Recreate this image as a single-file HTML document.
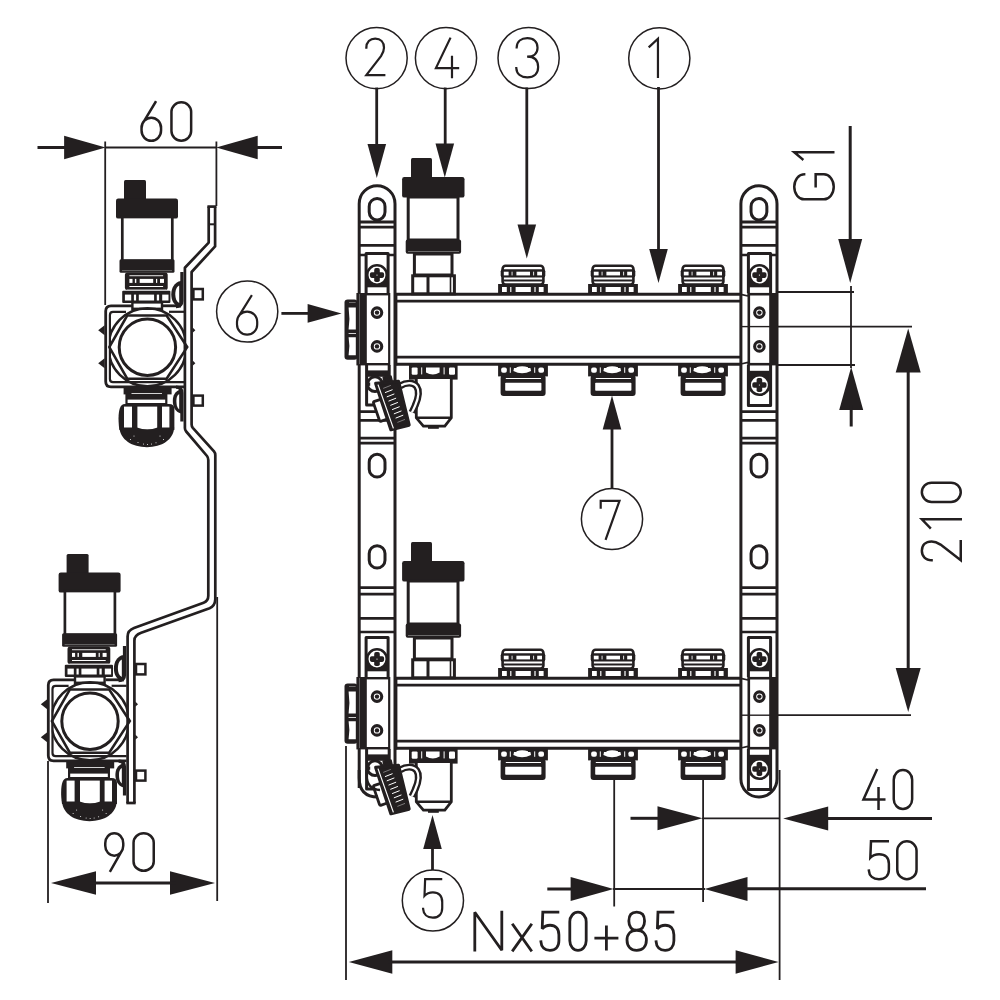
<!DOCTYPE html>
<html><head><meta charset="utf-8"><title>Manifold drawing</title>
<style>
html,body{margin:0;padding:0;background:#fff;}
body{width:1000px;height:1000px;overflow:hidden;font-family:"Liberation Sans",sans-serif;}
svg{display:block}
</style></head><body>
<svg width="1000" height="1000" viewBox="0 0 1000 1000">
<defs><clipPath id="frameclip"><rect x="109" y="300" width="76" height="95"/></clipPath></defs>
<rect width="1000" height="1000" fill="#fff"/>
<path d="M37.5,147.5 L70,147.5" fill="none" stroke="#231f20" stroke-width="3.0" stroke-linecap="butt"/>
<polygon points="105.60,147.50 64.10,135.75 64.10,159.25" fill="#231f20"/>
<path d="M105,147.5 L216,147.5" fill="none" stroke="#231f20" stroke-width="1.8" stroke-linecap="butt"/>
<polygon points="216.20,147.50 257.70,135.75 257.70,159.25" fill="#231f20"/>
<path d="M250,147.5 L282,147.5" fill="none" stroke="#231f20" stroke-width="3.0" stroke-linecap="butt"/>
<path d="M105.2,141.5 L105.2,305" fill="none" stroke="#231f20" stroke-width="1.8" stroke-linecap="butt"/>
<path d="M216.4,141.5 L216.4,206" fill="none" stroke="#231f20" stroke-width="1.8" stroke-linecap="butt"/>
<path d="M13.5,0 L2,18.3 M0,26.5 V24 A9.5,9.5 0 0 1 19,24 V26.5 A9.5,9.5 0 0 1 0,26.5 Z" transform="translate(141.55,102.25) scale(1.0263,1.0694)" fill="none" stroke="#231f20" stroke-width="2.5" vector-effect="non-scaling-stroke" stroke-linejoin="miter" stroke-miterlimit="3" stroke-linecap="square"/>
<path d="M0,9 A9,9 0 0 1 18,9 V27 A9,9 0 0 1 0,27 Z" transform="translate(171.45,102.25) scale(1.0944,1.0694)" fill="none" stroke="#231f20" stroke-width="2.5" vector-effect="non-scaling-stroke" stroke-linejoin="miter" stroke-miterlimit="3" stroke-linecap="square"/>
<path d="M48,761 L48,903" fill="none" stroke="#231f20" stroke-width="1.8" stroke-linecap="butt"/>
<path d="M217.2,597 L217.2,901" fill="none" stroke="#231f20" stroke-width="1.8" stroke-linecap="butt"/>
<polygon points="51.00,883.00 96.00,871.25 96.00,894.75" fill="#231f20"/>
<polygon points="215.00,883.00 170.00,871.25 170.00,894.75" fill="#231f20"/>
<path d="M90,883 L176,883" fill="none" stroke="#231f20" stroke-width="3.0" stroke-linecap="butt"/>
<path d="M5.5,36 L17,17.7 M19,9.5 V12 A9.5,9.5 0 0 1 0,12 V9.5 A9.5,9.5 0 0 1 19,9.5 Z" transform="translate(105.25,833.25) scale(0.9474,1.0417)" fill="none" stroke="#231f20" stroke-width="2.5" vector-effect="non-scaling-stroke" stroke-linejoin="miter" stroke-miterlimit="3" stroke-linecap="square"/>
<path d="M0,9 A9,9 0 0 1 18,9 V27 A9,9 0 0 1 0,27 Z" transform="translate(133.55,833.25) scale(1.1222,1.0417)" fill="none" stroke="#231f20" stroke-width="2.5" vector-effect="non-scaling-stroke" stroke-linejoin="miter" stroke-miterlimit="3" stroke-linecap="square"/>
<path d="M850.2,126 L850.2,245" fill="none" stroke="#231f20" stroke-width="3.0" stroke-linecap="butt"/>
<polygon points="850.20,283.00 838.20,239.00 862.20,239.00" fill="#231f20"/>
<path d="M851,286 L851,368" fill="none" stroke="#231f20" stroke-width="1.8" stroke-linecap="butt"/>
<polygon points="851.20,367.00 839.20,410.00 863.20,410.00" fill="#231f20"/>
<path d="M851.2,405 L851.2,426.5" fill="none" stroke="#231f20" stroke-width="3.0" stroke-linecap="butt"/>
<path d="M778,292 L854,292" fill="none" stroke="#231f20" stroke-width="1.8" stroke-linecap="butt"/>
<path d="M778,365 L855,365" fill="none" stroke="#231f20" stroke-width="1.8" stroke-linecap="butt"/>
<path d="M19,9 A9.5,9 0 0 0 0,9 V27 A9.5,9 0 0 0 19,27 V19.5 H10" transform="matrix(0,-1.3211,1.0972,0,794.25,199.35)" fill="none" stroke="#231f20" stroke-width="2.5" vector-effect="non-scaling-stroke" stroke-linejoin="miter" stroke-miterlimit="3" stroke-linecap="square"/>
<path d="M0,7.5 L9.5,0 V36" transform="matrix(0,-0.7200,1.0833,0,794.25,159.15)" fill="none" stroke="#231f20" stroke-width="2.5" vector-effect="non-scaling-stroke" stroke-linejoin="miter" stroke-miterlimit="3" stroke-linecap="square"/>
<path d="M778,326.6 L912,326.6" fill="none" stroke="#231f20" stroke-width="1.8" stroke-linecap="butt"/>
<path d="M778,715.2 L911,715.2" fill="none" stroke="#231f20" stroke-width="1.8" stroke-linecap="butt"/>
<path d="M908.2,365 L908.2,675" fill="none" stroke="#231f20" stroke-width="3.0" stroke-linecap="butt"/>
<polygon points="908.20,328.50 895.70,372.50 920.70,372.50" fill="#231f20"/>
<polygon points="908.20,712.00 895.70,668.00 920.70,668.00" fill="#231f20"/>
<path d="M0.3,9 C0.3,3.5 4,0 9.2,0 C14.5,0 18,3.5 18,9 C18,12 17,14.3 15,17.3 L0.3,36 H18.3" transform="matrix(0,-1.0611,1.0806,0,921.85,560.55)" fill="none" stroke="#231f20" stroke-width="2.5" vector-effect="non-scaling-stroke" stroke-linejoin="miter" stroke-miterlimit="3" stroke-linecap="square"/>
<path d="M0,7.5 L9.5,0 V36" transform="matrix(0,-0.8900,1.0806,0,921.85,527.75)" fill="none" stroke="#231f20" stroke-width="2.5" vector-effect="non-scaling-stroke" stroke-linejoin="miter" stroke-miterlimit="3" stroke-linecap="square"/>
<path d="M0,9 A9,9 0 0 1 18,9 V27 A9,9 0 0 1 0,27 Z" transform="matrix(0,-1.0722,1.0806,0,921.85,501.95)" fill="none" stroke="#231f20" stroke-width="2.5" vector-effect="non-scaling-stroke" stroke-linejoin="miter" stroke-miterlimit="3" stroke-linecap="square"/>
<path d="M630.5,818.3 L660,818.3" fill="none" stroke="#231f20" stroke-width="3.0" stroke-linecap="butt"/>
<polygon points="702.50,818.30 657.50,806.30 657.50,830.30" fill="#231f20"/>
<path d="M702,818.3 L780,818.3" fill="none" stroke="#231f20" stroke-width="1.8" stroke-linecap="butt"/>
<polygon points="783.20,818.60 828.20,806.60 828.20,830.60" fill="#231f20"/>
<path d="M822,818.6 L932,818.6" fill="none" stroke="#231f20" stroke-width="3.0" stroke-linecap="butt"/>
<path d="M13.5,0 L0.3,27.5 H21 M15.3,17 V36" transform="translate(863.15,770.05) scale(1.0048,1.0750)" fill="none" stroke="#231f20" stroke-width="2.5" vector-effect="non-scaling-stroke" stroke-linejoin="miter" stroke-miterlimit="3" stroke-linecap="square"/>
<path d="M0,9 A9,9 0 0 1 18,9 V27 A9,9 0 0 1 0,27 Z" transform="translate(893.75,770.05) scale(1.0222,1.0806)" fill="none" stroke="#231f20" stroke-width="2.5" vector-effect="non-scaling-stroke" stroke-linejoin="miter" stroke-miterlimit="3" stroke-linecap="square"/>
<path d="M547.3,889 L575,889" fill="none" stroke="#231f20" stroke-width="3.0" stroke-linecap="butt"/>
<polygon points="613.60,889.00 570.60,877.00 570.60,901.00" fill="#231f20"/>
<path d="M613,889 L705,889" fill="none" stroke="#231f20" stroke-width="1.8" stroke-linecap="butt"/>
<polygon points="704.50,889.00 747.50,877.00 747.50,901.00" fill="#231f20"/>
<path d="M742,888.7 L926,888.7" fill="none" stroke="#231f20" stroke-width="3.0" stroke-linecap="butt"/>
<path d="M17.3,0 H2.2 L1.6,15.6 C3.6,13.4 6.3,12.3 9.5,12.3 C15,12.3 18.3,15.6 18.3,21.3 V27 C18.3,32.6 14.9,36 9.4,36 C4,36 0.6,32.8 0.3,27.8" transform="translate(868.55,841.25) scale(1.1111,1.0556)" fill="none" stroke="#231f20" stroke-width="2.5" vector-effect="non-scaling-stroke" stroke-linejoin="miter" stroke-miterlimit="3" stroke-linecap="square"/>
<path d="M0,9 A9,9 0 0 1 18,9 V27 A9,9 0 0 1 0,27 Z" transform="translate(897.25,841.25) scale(1.0722,1.0556)" fill="none" stroke="#231f20" stroke-width="2.5" vector-effect="non-scaling-stroke" stroke-linejoin="miter" stroke-miterlimit="3" stroke-linecap="square"/>
<path d="M614.2,780 L614.2,906.5" fill="none" stroke="#231f20" stroke-width="1.8" stroke-linecap="butt"/>
<path d="M703.1,780 L703.1,902" fill="none" stroke="#231f20" stroke-width="1.8" stroke-linecap="butt"/>
<path d="M779.6,770 L779.6,980" fill="none" stroke="#231f20" stroke-width="1.8" stroke-linecap="butt"/>
<path d="M346,746 L346,980" fill="none" stroke="#231f20" stroke-width="1.8" stroke-linecap="butt"/>
<polygon points="348.80,962.00 392.30,950.25 392.30,973.75" fill="#231f20"/>
<polygon points="778.60,962.00 735.60,950.25 735.60,973.75" fill="#231f20"/>
<path d="M388,962 L740,962" fill="none" stroke="#231f20" stroke-width="3.0" stroke-linecap="butt"/>
<path d="M0,36 V0 L27,36 V0" transform="translate(474.80,912.20) scale(1.0000,1.0556)" fill="none" stroke="#231f20" stroke-width="2.8" vector-effect="non-scaling-stroke" stroke-linejoin="miter" stroke-miterlimit="3" stroke-linecap="square"/>
<path d="M0,12 L18,36 M18,12 L0,36" transform="translate(513.00,912.20) scale(1.0000,1.0556)" fill="none" stroke="#231f20" stroke-width="2.8" vector-effect="non-scaling-stroke" stroke-linejoin="miter" stroke-miterlimit="3" stroke-linecap="square"/>
<path d="M17.3,0 H2.2 L1.6,15.6 C3.6,13.4 6.3,12.3 9.5,12.3 C15,12.3 18.3,15.6 18.3,21.3 V27 C18.3,32.6 14.9,36 9.4,36 C4,36 0.6,32.8 0.3,27.8" transform="translate(540.60,912.20) scale(1.0000,1.0611)" fill="none" stroke="#231f20" stroke-width="2.8" vector-effect="non-scaling-stroke" stroke-linejoin="miter" stroke-miterlimit="3" stroke-linecap="square"/>
<path d="M0,9 A9,9 0 0 1 18,9 V27 A9,9 0 0 1 0,27 Z" transform="translate(569.80,912.20) scale(0.9111,1.0611)" fill="none" stroke="#231f20" stroke-width="2.8" vector-effect="non-scaling-stroke" stroke-linejoin="miter" stroke-miterlimit="3" stroke-linecap="square"/>
<path d="M0,24.5 H22 M11,14 V35" transform="translate(595.80,912.20) scale(0.9636,1.0556)" fill="none" stroke="#231f20" stroke-width="2.8" vector-effect="non-scaling-stroke" stroke-linejoin="miter" stroke-miterlimit="3" stroke-linecap="square"/>
<path d="M9.5,0 C14.3,0 17.2,3 17.2,8.3 C17.2,13.8 14.3,17 9.5,17 C4.7,17 1.8,13.8 1.8,8.3 C1.8,3 4.7,0 9.5,0 Z M9.5,17 C15.3,17 19,20.5 19,26.3 C19,32.3 15.3,36 9.5,36 C3.7,36 0,32.3 0,26.3 C0,20.5 3.7,17 9.5,17 Z" transform="translate(627.00,912.20) scale(1.0211,1.0611)" fill="none" stroke="#231f20" stroke-width="2.8" vector-effect="non-scaling-stroke" stroke-linejoin="miter" stroke-miterlimit="3" stroke-linecap="square"/>
<path d="M17.3,0 H2.2 L1.6,15.6 C3.6,13.4 6.3,12.3 9.5,12.3 C15,12.3 18.3,15.6 18.3,21.3 V27 C18.3,32.6 14.9,36 9.4,36 C4,36 0.6,32.8 0.3,27.8" transform="translate(655.80,912.20) scale(0.9889,1.0611)" fill="none" stroke="#231f20" stroke-width="2.8" vector-effect="non-scaling-stroke" stroke-linejoin="miter" stroke-miterlimit="3" stroke-linecap="square"/>
<circle cx="376.6" cy="58.1" r="30.6" fill="none" stroke="#231f20" stroke-width="1.5"/>
<path d="M0.3,9 C0.3,3.5 4,0 9.2,0 C14.5,0 18,3.5 18,9 C18,12 17,14.3 15,17.3 L0.3,36 H18.3" transform="translate(366.00,38.60) scale(1.0000,1.0167)" fill="none" stroke="#231f20" stroke-width="2.2" vector-effect="non-scaling-stroke" stroke-linejoin="miter" stroke-miterlimit="3" stroke-linecap="square"/>
<circle cx="446" cy="58.1" r="30.6" fill="none" stroke="#231f20" stroke-width="1.5"/>
<path d="M13.5,0 L0.3,27.5 H21 M15.3,17 V36" transform="translate(435.60,38.60) scale(1.0714,1.0722)" fill="none" stroke="#231f20" stroke-width="2.2" vector-effect="non-scaling-stroke" stroke-linejoin="miter" stroke-miterlimit="3" stroke-linecap="square"/>
<circle cx="528.6" cy="58" r="30.6" fill="none" stroke="#231f20" stroke-width="1.5"/>
<path d="M0.3,8.5 C0.5,3.2 4,0 9.2,0 C14.5,0 17.7,3.3 17.7,8.7 C17.7,14 14.5,17 9,17 C14.8,17 18.2,20.3 18.2,26.5 C18.2,32.5 14.8,36 9.2,36 C3.8,36 0.3,32.8 0,27.5" transform="translate(516.30,38.20) scale(1.2000,1.0889)" fill="none" stroke="#231f20" stroke-width="2.2" vector-effect="non-scaling-stroke" stroke-linejoin="miter" stroke-miterlimit="3" stroke-linecap="square"/>
<circle cx="659.3" cy="58.3" r="30.6" fill="none" stroke="#231f20" stroke-width="1.5"/>
<path d="M0,7.5 L9.5,0 V36" transform="translate(649.50,38.70) scale(0.8900,1.0611)" fill="none" stroke="#231f20" stroke-width="2.2" vector-effect="non-scaling-stroke" stroke-linejoin="miter" stroke-miterlimit="3" stroke-linecap="square"/>
<circle cx="247.2" cy="311.5" r="30.6" fill="none" stroke="#231f20" stroke-width="1.5"/>
<path d="M13.5,0 L2,18.3 M0,26.5 V24 A9.5,9.5 0 0 1 19,24 V26.5 A9.5,9.5 0 0 1 0,26.5 Z" transform="translate(237.00,296.00) scale(1.0632,1.0750)" fill="none" stroke="#231f20" stroke-width="2.2" vector-effect="non-scaling-stroke" stroke-linejoin="miter" stroke-miterlimit="3" stroke-linecap="square"/>
<circle cx="612" cy="519" r="30.6" fill="none" stroke="#231f20" stroke-width="1.5"/>
<path d="M0,6.5 V0 H18 L5,36" transform="translate(600.70,500.80) scale(1.0444,1.0583)" fill="none" stroke="#231f20" stroke-width="2.2" vector-effect="non-scaling-stroke" stroke-linejoin="miter" stroke-miterlimit="3" stroke-linecap="square"/>
<circle cx="432.9" cy="900.5" r="30.6" fill="none" stroke="#231f20" stroke-width="1.5"/>
<path d="M17.3,0 H2.2 L1.6,15.6 C3.6,13.4 6.3,12.3 9.5,12.3 C15,12.3 18.3,15.6 18.3,21.3 V27 C18.3,32.6 14.9,36 9.4,36 C4,36 0.6,32.8 0.3,27.8" transform="translate(422.80,879.10) scale(1.0611,1.0722)" fill="none" stroke="#231f20" stroke-width="2.2" vector-effect="non-scaling-stroke" stroke-linejoin="miter" stroke-miterlimit="3" stroke-linecap="square"/>
<path d="M376.7,87.5 L376.7,150" fill="none" stroke="#231f20" stroke-width="2.8" stroke-linecap="butt"/>
<polygon points="376.80,178.00 367.50,144.00 386.10,144.00" fill="#231f20"/>
<path d="M445.2,87.5 L445.2,150" fill="none" stroke="#231f20" stroke-width="2.8" stroke-linecap="butt"/>
<polygon points="444.80,177.60 435.50,143.60 454.10,143.60" fill="#231f20"/>
<path d="M526.8,87.5 L526.8,235" fill="none" stroke="#231f20" stroke-width="2.8" stroke-linecap="butt"/>
<polygon points="526.80,258.50 517.50,224.50 536.10,224.50" fill="#231f20"/>
<path d="M658.5,87 L658.5,250" fill="none" stroke="#231f20" stroke-width="2.8" stroke-linecap="butt"/>
<polygon points="658.50,283.00 649.20,249.00 667.80,249.00" fill="#231f20"/>
<path d="M281.4,313.4 L312,313.4" fill="none" stroke="#231f20" stroke-width="2.8" stroke-linecap="butt"/>
<polygon points="341.60,313.40 307.60,304.10 307.60,322.70" fill="#231f20"/>
<path d="M612,425 L612,488" fill="none" stroke="#231f20" stroke-width="2.8" stroke-linecap="butt"/>
<polygon points="612.00,395.60 602.70,429.60 621.30,429.60" fill="#231f20"/>
<path d="M432.5,845 L432.5,870" fill="none" stroke="#231f20" stroke-width="2.8" stroke-linecap="butt"/>
<polygon points="432.50,815.00 423.20,849.00 441.80,849.00" fill="#231f20"/>
<path d="M208.7,206.6 V242.6 L184.9,267.8 V428 L186.2,431.5 L207,456 L208.3,460 V595.6 L207.5,600 L203.6,602.8 L134,628 L129,631 L127.6,636.4 V803 H134.4 V640.4 L136,636 L141.2,632.8 L209.6,608.2 L213.5,605 L215,599.2 V455 L214,451.4 L192.8,427.8 L191.6,424.5 V272 L215.1,246.4 V206.6 Z" fill="#fff"/>
<g transform="translate(0,0)">
<rect x="124" y="180" width="22" height="21" rx="1.5" fill="#231f20"/>
<rect x="116" y="198.6" width="62" height="20" rx="2.2" fill="#231f20"/>
<rect x="122.3" y="217" width="50" height="44" rx="0" fill="#fff" stroke="#231f20" stroke-width="2.7"/>
<rect x="119.5" y="259.2" width="55" height="13.6" rx="1.5" fill="#231f20"/>
<rect x="122" y="270.4" width="50" height="0.7" fill="#8c8c8c"/>
<rect x="124.9" y="272.5" width="42.8" height="17.4" rx="2.5" fill="#231f20"/>
<rect x="129.4" y="275.3" width="33.70" height="0.90" fill="#fff"/>
<rect x="129.4" y="278.9" width="3.10" height="4.00" fill="#fff"/>
<rect x="134.9" y="278.9" width="1.40" height="4.00" fill="#fff"/>
<rect x="139.7" y="278.9" width="13.50" height="4.00" fill="#fff"/>
<rect x="156.0" y="278.9" width="1.20" height="4.00" fill="#fff"/>
<rect x="160" y="278.9" width="4.00" height="4.00" fill="#fff"/>
<rect x="129.4" y="286.0" width="33.70" height="1.00" fill="#fff"/>
<rect x="127" y="289.6" width="39.00" height="1.10" fill="#fff"/>
<rect x="122.2" y="290.7" width="48.2" height="12.2" rx="1" fill="#231f20"/>
<rect x="124.9" y="294.6" width="6.30" height="5.90" fill="#fff"/>
<rect x="133.9" y="294.6" width="2.20" height="5.90" fill="#fff"/>
<rect x="138.8" y="294.6" width="15.30" height="5.90" fill="#fff"/>
<rect x="156.8" y="294.6" width="2.30" height="5.90" fill="#fff"/>
<rect x="162.2" y="294.6" width="6.30" height="5.90" fill="#fff"/>
<rect x="132.4" y="302.4" width="29.6" height="6.4" rx="0" fill="#fff" stroke="#231f20" stroke-width="2.4"/>
<path d="M132,305.8 H111 Q105.7,305.8 105.7,311 V381.5 Q105.7,386.9 111,386.9 H184" fill="none" stroke="#231f20" stroke-width="2.8" stroke-linejoin="round" stroke-linecap="butt" />
<path d="M163,305.8 H181" fill="none" stroke="#231f20" stroke-width="2.8" stroke-linejoin="round" stroke-linecap="butt" />
<path d="M126,311.8 H113 Q109.9,311.8 109.9,315 V379 Q109.9,382.2 113,382.2 H184" fill="none" stroke="#231f20" stroke-width="2.2" stroke-linejoin="round" stroke-linecap="butt" />
<path d="M169,311.8 H184" fill="none" stroke="#231f20" stroke-width="2.2" stroke-linejoin="round" stroke-linecap="butt" />
<polygon points="98.2,330.2 104.6,325.2 104.6,335.2" fill="#231f20"/>
<polygon points="195.4,330.2 192.6,327.59999999999997 192.6,332.8" fill="#231f20"/>
<polygon points="98.2,363.2 104.6,358.2 104.6,368.2" fill="#231f20"/>
<polygon points="195.4,363.2 192.6,360.59999999999997 192.6,365.8" fill="#231f20"/>
<circle cx="147.4" cy="347.2" r="39" fill="none" stroke="#231f20" stroke-width="2.5" clip-path="url(#frameclip)"/>
<polygon points="109.30,347.10 127.20,315.50 166.60,315.50 187.20,347.10 166.60,378.70 127.20,378.70" fill="none" stroke="#231f20" stroke-width="2.6" stroke-linejoin="miter"/>
<circle cx="147.4" cy="347.2" r="28.2" fill="#fff" stroke="#231f20" stroke-width="3.0"/>
<rect x="123.6" y="388" width="48" height="6.4" rx="0" fill="#231f20"/>
<rect x="131.5" y="393.2" width="30.5" height="1.3" fill="#fff"/>
<rect x="125.4" y="394" width="42" height="10.5" rx="0" fill="#231f20"/>
<rect x="127.6" y="399.6" width="37.6" height="3.4" fill="#fff"/>
<path d="M125,404 H169 Q174.4,404 174.4,409 V430 H119.4 C118.2,422 118.2,414 119.6,409 Q121,404 125,404 Z" fill="#231f20"/>
<rect x="124" y="406.6" width="8" height="23" fill="#fff"/>
<rect x="137.4" y="406.6" width="19.799999999999983" height="23" fill="#fff"/>
<rect x="162" y="406.6" width="7.400000000000006" height="23" fill="#fff"/>
<path d="M119.4,427.6 H137 Q147.3,431.6 157.6,427.6 H174.2 C173.4,440 162,447.2 147,447.2 C132,447.2 120.4,440 119.4,427.6 Z" fill="#231f20"/>
<circle cx="134" cy="436" r="0.5" fill="#fff"/>
<circle cx="160" cy="436" r="0.5" fill="#fff"/>
<circle cx="130.5" cy="439.5" r="0.5" fill="#fff"/>
<circle cx="163.5" cy="439.5" r="0.5" fill="#fff"/>
<circle cx="138" cy="442.6" r="0.5" fill="#fff"/>
<circle cx="143.5" cy="444" r="0.5" fill="#fff"/>
<circle cx="147.5" cy="444.4" r="0.5" fill="#fff"/>
<circle cx="151.5" cy="444" r="0.5" fill="#fff"/>
<circle cx="156" cy="442.8" r="0.5" fill="#fff"/>
<path d="M181.9,272 V301 Q181.9,306.5 176,306.6" fill="none" stroke="#231f20" stroke-width="3.2" stroke-linejoin="round" stroke-linecap="butt" />
<path d="M181,281 C174,282 171.3,288.5 171.3,294.5 C171.3,300.5 174,306.4 181,307.4 Z" fill="#231f20"/>
<path d="M179.2,285.6 C176.2,287 175.3,291 175.3,294.5 C175.3,298 176.2,301.4 179.2,303 Z" fill="#fff"/>
<path d="M181.9,421.4 V393 Q181.9,387.4 176,387.2" fill="none" stroke="#231f20" stroke-width="3.2" stroke-linejoin="round" stroke-linecap="butt" />
<path d="M181,389.6 C175,390.4 172.8,396 172.8,401 C172.8,406 175,412.4 181,413.4 Z" fill="#231f20"/>
<path d="M179.2,394 C176.8,395.4 176.4,398 176.4,401 C176.4,404 176.8,407.6 179.2,409.4 Z" fill="#fff"/>
<rect x="193.4" y="289" width="9.4" height="10.4" rx="0" fill="#fff" stroke="#231f20" stroke-width="2.5"/>
<rect x="193.4" y="395.6" width="9.4" height="10" rx="0" fill="#fff" stroke="#231f20" stroke-width="2.5"/>
</g>
<g transform="translate(-57.4,374)">
<rect x="124" y="180" width="22" height="21" rx="1.5" fill="#231f20"/>
<rect x="116" y="198.6" width="62" height="20" rx="2.2" fill="#231f20"/>
<rect x="122.3" y="217" width="50" height="44" rx="0" fill="#fff" stroke="#231f20" stroke-width="2.7"/>
<rect x="119.5" y="259.2" width="55" height="13.6" rx="1.5" fill="#231f20"/>
<rect x="122" y="270.4" width="50" height="0.7" fill="#8c8c8c"/>
<rect x="124.9" y="272.5" width="42.8" height="17.4" rx="2.5" fill="#231f20"/>
<rect x="129.4" y="275.3" width="33.70" height="0.90" fill="#fff"/>
<rect x="129.4" y="278.9" width="3.10" height="4.00" fill="#fff"/>
<rect x="134.9" y="278.9" width="1.40" height="4.00" fill="#fff"/>
<rect x="139.7" y="278.9" width="13.50" height="4.00" fill="#fff"/>
<rect x="156.0" y="278.9" width="1.20" height="4.00" fill="#fff"/>
<rect x="160" y="278.9" width="4.00" height="4.00" fill="#fff"/>
<rect x="129.4" y="286.0" width="33.70" height="1.00" fill="#fff"/>
<rect x="127" y="289.6" width="39.00" height="1.10" fill="#fff"/>
<rect x="122.2" y="290.7" width="48.2" height="12.2" rx="1" fill="#231f20"/>
<rect x="124.9" y="294.6" width="6.30" height="5.90" fill="#fff"/>
<rect x="133.9" y="294.6" width="2.20" height="5.90" fill="#fff"/>
<rect x="138.8" y="294.6" width="15.30" height="5.90" fill="#fff"/>
<rect x="156.8" y="294.6" width="2.30" height="5.90" fill="#fff"/>
<rect x="162.2" y="294.6" width="6.30" height="5.90" fill="#fff"/>
<rect x="132.4" y="302.4" width="29.6" height="6.4" rx="0" fill="#fff" stroke="#231f20" stroke-width="2.4"/>
<path d="M132,305.8 H111 Q105.7,305.8 105.7,311 V381.5 Q105.7,386.9 111,386.9 H184" fill="none" stroke="#231f20" stroke-width="2.8" stroke-linejoin="round" stroke-linecap="butt" />
<path d="M163,305.8 H181" fill="none" stroke="#231f20" stroke-width="2.8" stroke-linejoin="round" stroke-linecap="butt" />
<path d="M126,311.8 H113 Q109.9,311.8 109.9,315 V379 Q109.9,382.2 113,382.2 H184" fill="none" stroke="#231f20" stroke-width="2.2" stroke-linejoin="round" stroke-linecap="butt" />
<path d="M169,311.8 H184" fill="none" stroke="#231f20" stroke-width="2.2" stroke-linejoin="round" stroke-linecap="butt" />
<polygon points="98.2,330.2 104.6,325.2 104.6,335.2" fill="#231f20"/>
<polygon points="195.4,330.2 192.6,327.59999999999997 192.6,332.8" fill="#231f20"/>
<polygon points="98.2,363.2 104.6,358.2 104.6,368.2" fill="#231f20"/>
<polygon points="195.4,363.2 192.6,360.59999999999997 192.6,365.8" fill="#231f20"/>
<circle cx="147.4" cy="347.2" r="39" fill="none" stroke="#231f20" stroke-width="2.5" clip-path="url(#frameclip)"/>
<polygon points="109.30,347.10 127.20,315.50 166.60,315.50 187.20,347.10 166.60,378.70 127.20,378.70" fill="none" stroke="#231f20" stroke-width="2.6" stroke-linejoin="miter"/>
<circle cx="147.4" cy="347.2" r="28.2" fill="#fff" stroke="#231f20" stroke-width="3.0"/>
<rect x="123.6" y="388" width="48" height="6.4" rx="0" fill="#231f20"/>
<rect x="131.5" y="393.2" width="30.5" height="1.3" fill="#fff"/>
<rect x="125.4" y="394" width="42" height="10.5" rx="0" fill="#231f20"/>
<rect x="127.6" y="399.6" width="37.6" height="3.4" fill="#fff"/>
<path d="M125,404 H169 Q174.4,404 174.4,409 V430 H119.4 C118.2,422 118.2,414 119.6,409 Q121,404 125,404 Z" fill="#231f20"/>
<rect x="124" y="406.6" width="8" height="23" fill="#fff"/>
<rect x="137.4" y="406.6" width="19.799999999999983" height="23" fill="#fff"/>
<rect x="162" y="406.6" width="7.400000000000006" height="23" fill="#fff"/>
<path d="M119.4,427.6 H137 Q147.3,431.6 157.6,427.6 H174.2 C173.4,440 162,447.2 147,447.2 C132,447.2 120.4,440 119.4,427.6 Z" fill="#231f20"/>
<circle cx="134" cy="436" r="0.5" fill="#fff"/>
<circle cx="160" cy="436" r="0.5" fill="#fff"/>
<circle cx="130.5" cy="439.5" r="0.5" fill="#fff"/>
<circle cx="163.5" cy="439.5" r="0.5" fill="#fff"/>
<circle cx="138" cy="442.6" r="0.5" fill="#fff"/>
<circle cx="143.5" cy="444" r="0.5" fill="#fff"/>
<circle cx="147.5" cy="444.4" r="0.5" fill="#fff"/>
<circle cx="151.5" cy="444" r="0.5" fill="#fff"/>
<circle cx="156" cy="442.8" r="0.5" fill="#fff"/>
<path d="M181.9,272 V301 Q181.9,306.5 176,306.6" fill="none" stroke="#231f20" stroke-width="3.2" stroke-linejoin="round" stroke-linecap="butt" />
<path d="M181,281 C174,282 171.3,288.5 171.3,294.5 C171.3,300.5 174,306.4 181,307.4 Z" fill="#231f20"/>
<path d="M179.2,285.6 C176.2,287 175.3,291 175.3,294.5 C175.3,298 176.2,301.4 179.2,303 Z" fill="#fff"/>
<path d="M181.9,421.4 V393 Q181.9,387.4 176,387.2" fill="none" stroke="#231f20" stroke-width="3.2" stroke-linejoin="round" stroke-linecap="butt" />
<path d="M181,389.6 C175,390.4 172.8,396 172.8,401 C172.8,406 175,412.4 181,413.4 Z" fill="#231f20"/>
<path d="M179.2,394 C176.8,395.4 176.4,398 176.4,401 C176.4,404 176.8,407.6 179.2,409.4 Z" fill="#fff"/>
<rect x="193.4" y="290.0" width="9.4" height="10.4" rx="0" fill="#fff" stroke="#231f20" stroke-width="2.5"/>
<rect x="193.4" y="396.6" width="9.4" height="10" rx="0" fill="#fff" stroke="#231f20" stroke-width="2.5"/>
</g>
<path d="M208.7,206.6 V242.6 L184.9,267.8 V428 Q184.9,430 186.2,431.5 L207,456 Q208.3,457.6 208.3,460 V595.6 Q208.4,601 203.6,602.8 L134,628 Q127.6,630.4 127.6,636.4 V803" fill="none" stroke="#231f20" stroke-width="2.7" stroke-linejoin="round" stroke-linecap="butt" />
<path d="M215.1,206.6 V246.4 L191.6,272 V424.5 Q191.6,426.4 192.8,427.8 L214,451.4 Q215.3,453 215.3,455 V599.2 Q215,606 209.6,608.2 L141.2,632.8 Q134.4,635.3 134.4,640.4 V803" fill="none" stroke="#231f20" stroke-width="2.7" stroke-linejoin="round" stroke-linecap="butt" />
<path d="M207.4,206.6 L216.4,206.6" fill="none" stroke="#231f20" stroke-width="2.7" stroke-linecap="butt"/>
<path d="M126.3,803 L135.7,803" fill="none" stroke="#231f20" stroke-width="2.7" stroke-linecap="butt"/>
<path d="M208,224.3 L216,224.3" fill="none" stroke="#231f20" stroke-width="2.0" stroke-linecap="butt"/>
<path d="M359.2,203.70000000000002 A17.900000000000006,17.900000000000006 0 0 1 395.0,203.70000000000002 V790 H359.2 Z" fill="#fff"/>
<path d="M740.9,203.85000000000002 A18.05000000000001,18.05000000000001 0 0 1 777.0,203.85000000000002 V778.95 A18.05000000000001,18.05000000000001 0 0 1 740.9,778.95 Z" fill="#fff"/>
<rect x="396" y="294.2" width="346" height="70" fill="#fff"/>
<path d="M396,294.2 L742,294.2" fill="none" stroke="#231f20" stroke-width="2.9" stroke-linecap="butt"/>
<path d="M396,301.2 L742,301.2" fill="none" stroke="#231f20" stroke-width="2.7" stroke-linecap="butt"/>
<path d="M396,357.2 L742,357.2" fill="none" stroke="#231f20" stroke-width="2.7" stroke-linecap="butt"/>
<path d="M396,364.2 L742,364.2" fill="none" stroke="#231f20" stroke-width="2.9" stroke-linecap="butt"/>
<path d="M396.2,293 L396.2,365.4" fill="none" stroke="#231f20" stroke-width="2.4" stroke-linecap="butt"/>
<rect x="411" y="158" width="21" height="21" rx="1.5" fill="#231f20"/>
<rect x="402.1" y="177" width="62.4" height="20.6" rx="2.2" fill="#231f20"/>
<rect x="408.2" y="197" width="49.8" height="43" rx="0" fill="#fff" stroke="#231f20" stroke-width="3.0"/>
<rect x="405.7" y="239.4" width="55.4" height="14.4" rx="2" fill="#231f20"/>
<rect x="408" y="251.2" width="51" height="0.7" fill="#8c8c8c"/>
<rect x="414.4" y="254" width="37.6" height="21" rx="0" fill="#fff" stroke="#231f20" stroke-width="3.0"/>
<rect x="412.7" y="275.8" width="41.7" height="18" rx="0" fill="#fff" stroke="#231f20" stroke-width="3.0"/>
<path d="M428,276 L428,294" fill="none" stroke="#231f20" stroke-width="3.0" stroke-linecap="butt"/>
<path d="M450.5,276 L450.5,294" fill="none" stroke="#231f20" stroke-width="1.6" stroke-linecap="butt"/>
<rect x="502.6" y="265.7" width="40.8" height="18.8" rx="3" fill="#fff" stroke="#231f20" stroke-width="2.6"/>
<rect x="500.7" y="269.2" width="44.6" height="8.2" rx="2" fill="#231f20"/>
<rect x="503.80" y="271.70" width="4.80" height="3.70" rx="0" fill="#fff"/>
<rect x="516.40" y="271.70" width="13.60" height="3.70" rx="0" fill="#fff"/>
<rect x="537.20" y="271.70" width="4.80" height="3.70" rx="0" fill="#fff"/>
<rect x="511.60" y="271.70" width="0.90" height="3.70" rx="0" fill="#fff"/>
<rect x="533.20" y="271.70" width="0.90" height="3.70" rx="0" fill="#fff"/>
<path d="M503.5,280.5 L542.5,280.5" fill="none" stroke="#231f20" stroke-width="1.8" stroke-linecap="butt"/>
<rect x="498.1" y="284" width="49.8" height="9.8" rx="0" fill="#231f20"/>
<rect x="502.00" y="287.00" width="4.80" height="5.00" rx="0" fill="#fff"/>
<rect x="515.60" y="287.00" width="15.20" height="5.00" rx="0" fill="#fff"/>
<rect x="538.80" y="287.00" width="4.80" height="5.00" rx="0" fill="#fff"/>
<rect x="510.20" y="287.00" width="1.20" height="5.00" rx="0" fill="#fff"/>
<rect x="534.40" y="287.00" width="1.20" height="5.00" rx="0" fill="#fff"/>
<rect x="498.1" y="364" width="49.8" height="12.4" rx="0" fill="#231f20"/>
<rect x="501.20" y="367.40" width="5.60" height="5.40" rx="1.8" fill="#fff"/>
<rect x="538.40" y="367.40" width="5.60" height="5.40" rx="1.8" fill="#fff"/>
<rect x="509.80" y="367.40" width="1.00" height="5.40" rx="0" fill="#fff"/>
<rect x="534.20" y="367.40" width="1.00" height="5.40" rx="0" fill="#fff"/>
<path d="M514,368 H530.4 L531,371 Q522,375.4 513.4,371 Z" fill="#fff"/>
<path d="M516.5,367.2 Q522,365.4 528,367.2 V368.4 H516.5 Z" fill="#fff"/>
<rect x="500.6" y="375" width="45" height="21" rx="3" fill="#231f20"/>
<rect x="505.80" y="378.00" width="35.20" height="1.00" rx="0" fill="#fff"/>
<rect x="505.20" y="382.80" width="36.20" height="8.00" rx="0.8" fill="#fff"/>
<rect x="592.6" y="265.7" width="40.8" height="18.8" rx="3" fill="#fff" stroke="#231f20" stroke-width="2.6"/>
<rect x="590.7" y="269.2" width="44.6" height="8.2" rx="2" fill="#231f20"/>
<rect x="593.80" y="271.70" width="4.80" height="3.70" rx="0" fill="#fff"/>
<rect x="606.40" y="271.70" width="13.60" height="3.70" rx="0" fill="#fff"/>
<rect x="627.20" y="271.70" width="4.80" height="3.70" rx="0" fill="#fff"/>
<rect x="601.60" y="271.70" width="0.90" height="3.70" rx="0" fill="#fff"/>
<rect x="623.20" y="271.70" width="0.90" height="3.70" rx="0" fill="#fff"/>
<path d="M593.5,280.5 L632.5,280.5" fill="none" stroke="#231f20" stroke-width="1.8" stroke-linecap="butt"/>
<rect x="588.1" y="284" width="49.8" height="9.8" rx="0" fill="#231f20"/>
<rect x="592.00" y="287.00" width="4.80" height="5.00" rx="0" fill="#fff"/>
<rect x="605.60" y="287.00" width="15.20" height="5.00" rx="0" fill="#fff"/>
<rect x="628.80" y="287.00" width="4.80" height="5.00" rx="0" fill="#fff"/>
<rect x="600.20" y="287.00" width="1.20" height="5.00" rx="0" fill="#fff"/>
<rect x="624.40" y="287.00" width="1.20" height="5.00" rx="0" fill="#fff"/>
<rect x="588.1" y="364" width="49.8" height="12.4" rx="0" fill="#231f20"/>
<rect x="591.20" y="367.40" width="5.60" height="5.40" rx="1.8" fill="#fff"/>
<rect x="628.40" y="367.40" width="5.60" height="5.40" rx="1.8" fill="#fff"/>
<rect x="599.80" y="367.40" width="1.00" height="5.40" rx="0" fill="#fff"/>
<rect x="624.20" y="367.40" width="1.00" height="5.40" rx="0" fill="#fff"/>
<path d="M604,368 H620.4 L621,371 Q612,375.4 603.4,371 Z" fill="#fff"/>
<path d="M606.5,367.2 Q612,365.4 618,367.2 V368.4 H606.5 Z" fill="#fff"/>
<rect x="590.6" y="375" width="45" height="21" rx="3" fill="#231f20"/>
<rect x="595.80" y="378.00" width="35.20" height="1.00" rx="0" fill="#fff"/>
<rect x="595.20" y="382.80" width="36.20" height="8.00" rx="0.8" fill="#fff"/>
<rect x="682.6" y="265.7" width="40.8" height="18.8" rx="3" fill="#fff" stroke="#231f20" stroke-width="2.6"/>
<rect x="680.7" y="269.2" width="44.6" height="8.2" rx="2" fill="#231f20"/>
<rect x="683.80" y="271.70" width="4.80" height="3.70" rx="0" fill="#fff"/>
<rect x="696.40" y="271.70" width="13.60" height="3.70" rx="0" fill="#fff"/>
<rect x="717.20" y="271.70" width="4.80" height="3.70" rx="0" fill="#fff"/>
<rect x="691.60" y="271.70" width="0.90" height="3.70" rx="0" fill="#fff"/>
<rect x="713.20" y="271.70" width="0.90" height="3.70" rx="0" fill="#fff"/>
<path d="M683.5,280.5 L722.5,280.5" fill="none" stroke="#231f20" stroke-width="1.8" stroke-linecap="butt"/>
<rect x="678.1" y="284" width="49.8" height="9.8" rx="0" fill="#231f20"/>
<rect x="682.00" y="287.00" width="4.80" height="5.00" rx="0" fill="#fff"/>
<rect x="695.60" y="287.00" width="15.20" height="5.00" rx="0" fill="#fff"/>
<rect x="718.80" y="287.00" width="4.80" height="5.00" rx="0" fill="#fff"/>
<rect x="690.20" y="287.00" width="1.20" height="5.00" rx="0" fill="#fff"/>
<rect x="714.40" y="287.00" width="1.20" height="5.00" rx="0" fill="#fff"/>
<rect x="678.1" y="364" width="49.8" height="12.4" rx="0" fill="#231f20"/>
<rect x="681.20" y="367.40" width="5.60" height="5.40" rx="1.8" fill="#fff"/>
<rect x="718.40" y="367.40" width="5.60" height="5.40" rx="1.8" fill="#fff"/>
<rect x="689.80" y="367.40" width="1.00" height="5.40" rx="0" fill="#fff"/>
<rect x="714.20" y="367.40" width="1.00" height="5.40" rx="0" fill="#fff"/>
<path d="M694,368 H710.4 L711,371 Q702,375.4 693.4,371 Z" fill="#fff"/>
<path d="M696.5,367.2 Q702,365.4 708,367.2 V368.4 H696.5 Z" fill="#fff"/>
<rect x="680.6" y="375" width="45" height="21" rx="3" fill="#231f20"/>
<rect x="685.80" y="378.00" width="35.20" height="1.00" rx="0" fill="#fff"/>
<rect x="685.20" y="382.80" width="36.20" height="8.00" rx="0.8" fill="#fff"/>
<rect x="409" y="364" width="48.6" height="15.6" rx="0" fill="#231f20"/>
<rect x="411.70" y="367.40" width="5.90" height="7.40" rx="1.2" fill="#fff"/>
<rect x="449.00" y="367.40" width="6.00" height="7.40" rx="1.2" fill="#fff"/>
<rect x="421.20" y="367.40" width="1.00" height="7.00" rx="0" fill="#fff"/>
<rect x="443.60" y="367.40" width="1.00" height="7.00" rx="0" fill="#fff"/>
<path d="M426,367.4 H439.6 V372.4 Q432.8,376.6 426,372.4 Z" fill="#fff"/>
<path d="M416.3,379 V417.8 L423.4,426.2 H444.8 L451.3,417.8 V379" fill="#fff" stroke="#231f20" stroke-width="2.8" stroke-linejoin="miter" stroke-linecap="butt" />
<path d="M416.3,417.8 L451.3,417.8" fill="none" stroke="#231f20" stroke-width="2.4" stroke-linecap="butt"/>
<rect x="428" y="426.2" width="10.8" height="2.6" rx="0" fill="#231f20"/>
<rect x="396" y="678.2" width="346" height="70" fill="#fff"/>
<path d="M396,678.2 L742,678.2" fill="none" stroke="#231f20" stroke-width="2.9" stroke-linecap="butt"/>
<path d="M396,685.2 L742,685.2" fill="none" stroke="#231f20" stroke-width="2.7" stroke-linecap="butt"/>
<path d="M396,741.2 L742,741.2" fill="none" stroke="#231f20" stroke-width="2.7" stroke-linecap="butt"/>
<path d="M396,748.2 L742,748.2" fill="none" stroke="#231f20" stroke-width="2.9" stroke-linecap="butt"/>
<path d="M396.2,677 L396.2,749.4" fill="none" stroke="#231f20" stroke-width="2.4" stroke-linecap="butt"/>
<rect x="411" y="542" width="21" height="21" rx="1.5" fill="#231f20"/>
<rect x="402.1" y="561" width="62.4" height="20.6" rx="2.2" fill="#231f20"/>
<rect x="408.2" y="581" width="49.8" height="43" rx="0" fill="#fff" stroke="#231f20" stroke-width="3.0"/>
<rect x="405.7" y="623.4" width="55.4" height="14.4" rx="2" fill="#231f20"/>
<rect x="408" y="635.2" width="51" height="0.7" fill="#8c8c8c"/>
<rect x="414.4" y="638" width="37.6" height="21" rx="0" fill="#fff" stroke="#231f20" stroke-width="3.0"/>
<rect x="412.7" y="659.8" width="41.7" height="18" rx="0" fill="#fff" stroke="#231f20" stroke-width="3.0"/>
<path d="M428,660 L428,678" fill="none" stroke="#231f20" stroke-width="3.0" stroke-linecap="butt"/>
<path d="M450.5,660 L450.5,678" fill="none" stroke="#231f20" stroke-width="1.6" stroke-linecap="butt"/>
<rect x="502.6" y="649.7" width="40.8" height="18.8" rx="3" fill="#fff" stroke="#231f20" stroke-width="2.6"/>
<rect x="500.7" y="653.2" width="44.6" height="8.2" rx="2" fill="#231f20"/>
<rect x="503.80" y="655.70" width="4.80" height="3.70" rx="0" fill="#fff"/>
<rect x="516.40" y="655.70" width="13.60" height="3.70" rx="0" fill="#fff"/>
<rect x="537.20" y="655.70" width="4.80" height="3.70" rx="0" fill="#fff"/>
<rect x="511.60" y="655.70" width="0.90" height="3.70" rx="0" fill="#fff"/>
<rect x="533.20" y="655.70" width="0.90" height="3.70" rx="0" fill="#fff"/>
<path d="M503.5,664.5 L542.5,664.5" fill="none" stroke="#231f20" stroke-width="1.8" stroke-linecap="butt"/>
<rect x="498.1" y="668" width="49.8" height="9.8" rx="0" fill="#231f20"/>
<rect x="502.00" y="671.00" width="4.80" height="5.00" rx="0" fill="#fff"/>
<rect x="515.60" y="671.00" width="15.20" height="5.00" rx="0" fill="#fff"/>
<rect x="538.80" y="671.00" width="4.80" height="5.00" rx="0" fill="#fff"/>
<rect x="510.20" y="671.00" width="1.20" height="5.00" rx="0" fill="#fff"/>
<rect x="534.40" y="671.00" width="1.20" height="5.00" rx="0" fill="#fff"/>
<rect x="498.1" y="748" width="49.8" height="12.4" rx="0" fill="#231f20"/>
<rect x="501.20" y="751.40" width="5.60" height="5.40" rx="1.8" fill="#fff"/>
<rect x="538.40" y="751.40" width="5.60" height="5.40" rx="1.8" fill="#fff"/>
<rect x="509.80" y="751.40" width="1.00" height="5.40" rx="0" fill="#fff"/>
<rect x="534.20" y="751.40" width="1.00" height="5.40" rx="0" fill="#fff"/>
<path d="M514,752 H530.4 L531,755 Q522,759.4 513.4,755 Z" fill="#fff"/>
<path d="M516.5,751.2 Q522,749.4 528,751.2 V752.4 H516.5 Z" fill="#fff"/>
<rect x="500.6" y="759" width="45" height="21" rx="3" fill="#231f20"/>
<rect x="505.80" y="762.00" width="35.20" height="1.00" rx="0" fill="#fff"/>
<rect x="505.20" y="766.80" width="36.20" height="8.00" rx="0.8" fill="#fff"/>
<rect x="592.6" y="649.7" width="40.8" height="18.8" rx="3" fill="#fff" stroke="#231f20" stroke-width="2.6"/>
<rect x="590.7" y="653.2" width="44.6" height="8.2" rx="2" fill="#231f20"/>
<rect x="593.80" y="655.70" width="4.80" height="3.70" rx="0" fill="#fff"/>
<rect x="606.40" y="655.70" width="13.60" height="3.70" rx="0" fill="#fff"/>
<rect x="627.20" y="655.70" width="4.80" height="3.70" rx="0" fill="#fff"/>
<rect x="601.60" y="655.70" width="0.90" height="3.70" rx="0" fill="#fff"/>
<rect x="623.20" y="655.70" width="0.90" height="3.70" rx="0" fill="#fff"/>
<path d="M593.5,664.5 L632.5,664.5" fill="none" stroke="#231f20" stroke-width="1.8" stroke-linecap="butt"/>
<rect x="588.1" y="668" width="49.8" height="9.8" rx="0" fill="#231f20"/>
<rect x="592.00" y="671.00" width="4.80" height="5.00" rx="0" fill="#fff"/>
<rect x="605.60" y="671.00" width="15.20" height="5.00" rx="0" fill="#fff"/>
<rect x="628.80" y="671.00" width="4.80" height="5.00" rx="0" fill="#fff"/>
<rect x="600.20" y="671.00" width="1.20" height="5.00" rx="0" fill="#fff"/>
<rect x="624.40" y="671.00" width="1.20" height="5.00" rx="0" fill="#fff"/>
<rect x="588.1" y="748" width="49.8" height="12.4" rx="0" fill="#231f20"/>
<rect x="591.20" y="751.40" width="5.60" height="5.40" rx="1.8" fill="#fff"/>
<rect x="628.40" y="751.40" width="5.60" height="5.40" rx="1.8" fill="#fff"/>
<rect x="599.80" y="751.40" width="1.00" height="5.40" rx="0" fill="#fff"/>
<rect x="624.20" y="751.40" width="1.00" height="5.40" rx="0" fill="#fff"/>
<path d="M604,752 H620.4 L621,755 Q612,759.4 603.4,755 Z" fill="#fff"/>
<path d="M606.5,751.2 Q612,749.4 618,751.2 V752.4 H606.5 Z" fill="#fff"/>
<rect x="590.6" y="759" width="45" height="21" rx="3" fill="#231f20"/>
<rect x="595.80" y="762.00" width="35.20" height="1.00" rx="0" fill="#fff"/>
<rect x="595.20" y="766.80" width="36.20" height="8.00" rx="0.8" fill="#fff"/>
<rect x="682.6" y="649.7" width="40.8" height="18.8" rx="3" fill="#fff" stroke="#231f20" stroke-width="2.6"/>
<rect x="680.7" y="653.2" width="44.6" height="8.2" rx="2" fill="#231f20"/>
<rect x="683.80" y="655.70" width="4.80" height="3.70" rx="0" fill="#fff"/>
<rect x="696.40" y="655.70" width="13.60" height="3.70" rx="0" fill="#fff"/>
<rect x="717.20" y="655.70" width="4.80" height="3.70" rx="0" fill="#fff"/>
<rect x="691.60" y="655.70" width="0.90" height="3.70" rx="0" fill="#fff"/>
<rect x="713.20" y="655.70" width="0.90" height="3.70" rx="0" fill="#fff"/>
<path d="M683.5,664.5 L722.5,664.5" fill="none" stroke="#231f20" stroke-width="1.8" stroke-linecap="butt"/>
<rect x="678.1" y="668" width="49.8" height="9.8" rx="0" fill="#231f20"/>
<rect x="682.00" y="671.00" width="4.80" height="5.00" rx="0" fill="#fff"/>
<rect x="695.60" y="671.00" width="15.20" height="5.00" rx="0" fill="#fff"/>
<rect x="718.80" y="671.00" width="4.80" height="5.00" rx="0" fill="#fff"/>
<rect x="690.20" y="671.00" width="1.20" height="5.00" rx="0" fill="#fff"/>
<rect x="714.40" y="671.00" width="1.20" height="5.00" rx="0" fill="#fff"/>
<rect x="678.1" y="748" width="49.8" height="12.4" rx="0" fill="#231f20"/>
<rect x="681.20" y="751.40" width="5.60" height="5.40" rx="1.8" fill="#fff"/>
<rect x="718.40" y="751.40" width="5.60" height="5.40" rx="1.8" fill="#fff"/>
<rect x="689.80" y="751.40" width="1.00" height="5.40" rx="0" fill="#fff"/>
<rect x="714.20" y="751.40" width="1.00" height="5.40" rx="0" fill="#fff"/>
<path d="M694,752 H710.4 L711,755 Q702,759.4 693.4,755 Z" fill="#fff"/>
<path d="M696.5,751.2 Q702,749.4 708,751.2 V752.4 H696.5 Z" fill="#fff"/>
<rect x="680.6" y="759" width="45" height="21" rx="3" fill="#231f20"/>
<rect x="685.80" y="762.00" width="35.20" height="1.00" rx="0" fill="#fff"/>
<rect x="685.20" y="766.80" width="36.20" height="8.00" rx="0.8" fill="#fff"/>
<rect x="409" y="748" width="48.6" height="15.6" rx="0" fill="#231f20"/>
<rect x="411.70" y="751.40" width="5.90" height="7.40" rx="1.2" fill="#fff"/>
<rect x="449.00" y="751.40" width="6.00" height="7.40" rx="1.2" fill="#fff"/>
<rect x="421.20" y="751.40" width="1.00" height="7.00" rx="0" fill="#fff"/>
<rect x="443.60" y="751.40" width="1.00" height="7.00" rx="0" fill="#fff"/>
<path d="M426,751.4 H439.6 V756.4 Q432.8,760.6 426,756.4 Z" fill="#fff"/>
<path d="M416.3,763 V801.8 L423.4,810.2 H444.8 L451.3,801.8 V763" fill="#fff" stroke="#231f20" stroke-width="2.8" stroke-linejoin="miter" stroke-linecap="butt" />
<path d="M416.3,801.8 L451.3,801.8" fill="none" stroke="#231f20" stroke-width="2.4" stroke-linecap="butt"/>
<rect x="428" y="810.2" width="10.8" height="2.6" rx="0" fill="#231f20"/>
<path d="M359.2,788 V203.70000000000002 A17.900000000000006,17.900000000000006 0 0 1 395.0,203.70000000000002 V780" fill="none" stroke="#231f20" stroke-width="3.0" stroke-linejoin="round" stroke-linecap="butt" />
<rect x="369.20000000000005" y="198.5" width="15.8" height="21.400000000000006" rx="7.9" fill="#fff" stroke="#231f20" stroke-width="3.0"/>
<rect x="369.20000000000005" y="454.3" width="15.8" height="22.80000000000001" rx="7.9" fill="#fff" stroke="#231f20" stroke-width="3.0"/>
<rect x="369.20000000000005" y="545.7" width="15.8" height="22.399999999999977" rx="7.9" fill="#fff" stroke="#231f20" stroke-width="3.0"/>
<path d="M359.2,222 L395.0,222" fill="none" stroke="#231f20" stroke-width="2.8" stroke-linecap="butt"/>
<path d="M359.2,227.1 L395.0,227.1" fill="none" stroke="#231f20" stroke-width="2.8" stroke-linecap="butt"/>
<path d="M359.2,245.3 L395.0,245.3" fill="none" stroke="#231f20" stroke-width="2.8" stroke-linecap="butt"/>
<path d="M359.2,255 L395.0,255" fill="none" stroke="#231f20" stroke-width="2.4" stroke-linecap="butt"/>
<path d="M359.2,411.6 L395.0,411.6" fill="none" stroke="#231f20" stroke-width="2.6" stroke-linecap="butt"/>
<path d="M359.2,420.4 L395.0,420.4" fill="none" stroke="#231f20" stroke-width="2.6" stroke-linecap="butt"/>
<path d="M359.2,438.2 L395.0,438.2" fill="none" stroke="#231f20" stroke-width="2.7" stroke-linecap="butt"/>
<path d="M359.2,443.2 L395.0,443.2" fill="none" stroke="#231f20" stroke-width="2.7" stroke-linecap="butt"/>
<path d="M359.2,587.6 L395.0,587.6" fill="none" stroke="#231f20" stroke-width="2.8" stroke-linecap="butt"/>
<path d="M359.2,594.2 L395.0,594.2" fill="none" stroke="#231f20" stroke-width="2.8" stroke-linecap="butt"/>
<path d="M359.2,618.3 L395.0,618.3" fill="none" stroke="#231f20" stroke-width="2.8" stroke-linecap="butt"/>
<path d="M359.2,632 L395.0,632" fill="none" stroke="#231f20" stroke-width="2.6" stroke-linecap="butt"/>
<path d="M740.9,203.85000000000002 A18.05000000000001,18.05000000000001 0 0 1 777.0,203.85000000000002 V778.95 A18.05000000000001,18.05000000000001 0 0 1 740.9,778.95 Z" fill="none" stroke="#231f20" stroke-width="3.0" stroke-linejoin="round" stroke-linecap="butt" />
<rect x="751.0500000000001" y="198.5" width="15.8" height="21.400000000000006" rx="7.9" fill="#fff" stroke="#231f20" stroke-width="3.0"/>
<rect x="751.0500000000001" y="454.3" width="15.8" height="22.80000000000001" rx="7.9" fill="#fff" stroke="#231f20" stroke-width="3.0"/>
<rect x="751.0500000000001" y="545.7" width="15.8" height="22.399999999999977" rx="7.9" fill="#fff" stroke="#231f20" stroke-width="3.0"/>
<path d="M740.9,222 L777.0,222" fill="none" stroke="#231f20" stroke-width="2.8" stroke-linecap="butt"/>
<path d="M740.9,227.1 L777.0,227.1" fill="none" stroke="#231f20" stroke-width="2.8" stroke-linecap="butt"/>
<path d="M740.9,245.3 L777.0,245.3" fill="none" stroke="#231f20" stroke-width="2.8" stroke-linecap="butt"/>
<path d="M740.9,255 L777.0,255" fill="none" stroke="#231f20" stroke-width="2.4" stroke-linecap="butt"/>
<path d="M740.9,411.6 L777.0,411.6" fill="none" stroke="#231f20" stroke-width="2.6" stroke-linecap="butt"/>
<path d="M740.9,420.4 L777.0,420.4" fill="none" stroke="#231f20" stroke-width="2.6" stroke-linecap="butt"/>
<path d="M740.9,438.2 L777.0,438.2" fill="none" stroke="#231f20" stroke-width="2.7" stroke-linecap="butt"/>
<path d="M740.9,443.2 L777.0,443.2" fill="none" stroke="#231f20" stroke-width="2.7" stroke-linecap="butt"/>
<path d="M740.9,587.6 L777.0,587.6" fill="none" stroke="#231f20" stroke-width="2.8" stroke-linecap="butt"/>
<path d="M740.9,594.2 L777.0,594.2" fill="none" stroke="#231f20" stroke-width="2.8" stroke-linecap="butt"/>
<path d="M740.9,618.3 L777.0,618.3" fill="none" stroke="#231f20" stroke-width="2.8" stroke-linecap="butt"/>
<path d="M740.9,632 L777.0,632" fill="none" stroke="#231f20" stroke-width="2.6" stroke-linecap="butt"/>
<rect x="344.5" y="299.4" width="13" height="60.4" rx="3.2" fill="#231f20"/>
<path d="M348.6,307.5 H355.8 V329.6 H348.6 Q350.2,318.5 348.6,307.5 Z" fill="#fff"/>
<path d="M348.6,337.2 H355.8 V355.2 H348.6 Q350.2,346 348.6,337.2 Z" fill="#fff"/>
<rect x="348.6" y="333.2" width="7.4" height="0.8" fill="#fff"/>
<rect x="349" y="302.2" width="6.6" height="0.7" fill="#fff" opacity="0.5"/>
<rect x="366.1" y="253.1" width="22" height="40" fill="#fff"/>
<path d="M366.1,293 V253.4 H388.1 V293" fill="none" stroke="#231f20" stroke-width="3.0" stroke-linejoin="round" stroke-linecap="butt" />
<rect x="366.6" y="279.1" width="20.8" height="8.2" rx="0" fill="#231f20"/>
<circle cx="377" cy="275.1" r="9.8" fill="#fff" stroke="#231f20" stroke-width="2.6"/>
<rect x="369.9" y="272.3" width="14.2" height="5.6" rx="1.8" fill="#231f20"/>
<rect x="374.2" y="268.1" width="5.6" height="14.0" rx="1.8" fill="#231f20"/>
<circle cx="377" cy="275.1" r="0.6" fill="#fff"/>
<rect x="366.4" y="365" width="22" height="40" fill="#fff"/>
<path d="M366.6,365 V405 H389.2 V365" fill="none" stroke="#231f20" stroke-width="3.0" stroke-linejoin="round" stroke-linecap="butt" />
<rect x="367" y="370.4" width="22" height="6.4" rx="0" fill="#231f20"/>
<circle cx="375" cy="384.2" r="7.4" fill="#fff" stroke="#231f20" stroke-width="3.0"/>
<rect x="366.6" y="382.6" width="3.6" height="3.2" rx="0" fill="#231f20"/>
<rect x="366" y="293" width="24" height="72" fill="#fff"/>
<rect x="356.4" y="293" width="10.4" height="72.4" rx="0" fill="#231f20"/>
<rect x="359.1" y="294" width="0.5" height="70" fill="#9a9a9a"/>
<path d="M366,294.2 L390,294.2" fill="none" stroke="#231f20" stroke-width="2.4" stroke-linecap="butt"/>
<path d="M366,364.2 L390,364.2" fill="none" stroke="#231f20" stroke-width="2.4" stroke-linecap="butt"/>
<path d="M389.2,293 L389.2,365.4" fill="none" stroke="#231f20" stroke-width="2.2" stroke-linecap="butt"/>
<circle cx="377" cy="312.6" r="4.75" fill="#fff" stroke="#231f20" stroke-width="3.1"/>
<circle cx="377" cy="312.6" r="2.2" fill="#231f20"/>
<circle cx="377" cy="346.4" r="4.75" fill="#fff" stroke="#231f20" stroke-width="3.1"/>
<circle cx="377" cy="346.4" r="2.2" fill="#231f20"/>
<path d="M400,386 C406,382.4 413,381.8 416.6,386.4 C420.6,392 417.6,400 415.2,405.5 C414,408.5 413,410 412,412.4" fill="none" stroke="#231f20" stroke-width="7.0" stroke-linecap="butt"/>
<path d="M400,386 C406,382.4 413,381.8 416.6,386.4 C420.6,392 417.6,400 415.2,405.5 C414,408.5 413,410 412,412.4" fill="none" stroke="#fff" stroke-width="2.2" stroke-linecap="butt"/>
<g transform="translate(381.6,410) rotate(-19)">
<rect x="-5.4" y="-10.4" width="9.4" height="20.8" rx="1.5" fill="#fff" stroke="#231f20" stroke-width="2.8"/>
</g>
<path d="M375.8,383.4 L398.4,381.4 L409,425 L391,429.6 Z" fill="#231f20" stroke="#231f20" stroke-width="3.4" stroke-linejoin="round"/>
<path d="M383.6,377.4 L390.6,376.4 L392,382 L384.8,383 Z" fill="#231f20" stroke="#231f20" stroke-width="2.4" stroke-linejoin="round"/>
<path d="M378,384.6 L393.4,428.4" stroke="#fff" stroke-width="1.2" fill="none"/>
<path d="M383.20,388.40 l7.6,-3.0" stroke="#fff" stroke-width="1.0" fill="none" opacity="0.4"/>
<path d="M384.97,392.65 l7.6,-3.0" stroke="#fff" stroke-width="1.0" fill="none" opacity="1"/>
<path d="M386.75,396.90 l7.6,-3.0" stroke="#fff" stroke-width="1.0" fill="none" opacity="1"/>
<path d="M388.52,401.15 l7.6,-3.0" stroke="#fff" stroke-width="1.0" fill="none" opacity="1"/>
<path d="M390.30,405.40 l7.6,-3.0" stroke="#fff" stroke-width="1.0" fill="none" opacity="1"/>
<path d="M392.07,409.65 l7.6,-3.0" stroke="#fff" stroke-width="1.0" fill="none" opacity="1"/>
<path d="M393.85,413.90 l7.6,-3.0" stroke="#fff" stroke-width="1.0" fill="none" opacity="1"/>
<path d="M395.62,418.15 l7.6,-3.0" stroke="#fff" stroke-width="1.0" fill="none" opacity="1"/>
<path d="M397.40,422.40 l7.6,-3.0" stroke="#fff" stroke-width="1.0" fill="none" opacity="0.4"/>
<rect x="344.5" y="683.4" width="13" height="60.4" rx="3.2" fill="#231f20"/>
<path d="M348.6,691.5 H355.8 V713.6 H348.6 Q350.2,702.5 348.6,691.5 Z" fill="#fff"/>
<path d="M348.6,721.2 H355.8 V739.2 H348.6 Q350.2,730 348.6,721.2 Z" fill="#fff"/>
<rect x="348.6" y="717.2" width="7.4" height="0.8" fill="#fff"/>
<rect x="349" y="686.2" width="6.6" height="0.7" fill="#fff" opacity="0.5"/>
<rect x="366.1" y="637.1" width="22" height="40" fill="#fff"/>
<path d="M366.1,677 V637.4 H388.1 V677" fill="none" stroke="#231f20" stroke-width="3.0" stroke-linejoin="round" stroke-linecap="butt" />
<rect x="366.6" y="663.1" width="20.8" height="8.2" rx="0" fill="#231f20"/>
<circle cx="377" cy="659.1" r="9.8" fill="#fff" stroke="#231f20" stroke-width="2.6"/>
<rect x="369.9" y="656.3000000000001" width="14.2" height="5.6" rx="1.8" fill="#231f20"/>
<rect x="374.2" y="652.1" width="5.6" height="14.0" rx="1.8" fill="#231f20"/>
<circle cx="377" cy="659.1" r="0.6" fill="#fff"/>
<rect x="366.4" y="749" width="22" height="40" fill="#fff"/>
<path d="M366.6,749 V789 H389.2 V749" fill="none" stroke="#231f20" stroke-width="3.0" stroke-linejoin="round" stroke-linecap="butt" />
<rect x="367" y="754.4" width="22" height="6.4" rx="0" fill="#231f20"/>
<circle cx="375" cy="768.2" r="7.4" fill="#fff" stroke="#231f20" stroke-width="3.0"/>
<rect x="366.6" y="766.6" width="3.6" height="3.2" rx="0" fill="#231f20"/>
<rect x="366" y="677" width="24" height="72" fill="#fff"/>
<rect x="356.4" y="677" width="10.4" height="72.4" rx="0" fill="#231f20"/>
<rect x="359.1" y="678" width="0.5" height="70" fill="#9a9a9a"/>
<path d="M366,678.2 L390,678.2" fill="none" stroke="#231f20" stroke-width="2.4" stroke-linecap="butt"/>
<path d="M366,748.2 L390,748.2" fill="none" stroke="#231f20" stroke-width="2.4" stroke-linecap="butt"/>
<path d="M389.2,677 L389.2,749.4" fill="none" stroke="#231f20" stroke-width="2.2" stroke-linecap="butt"/>
<circle cx="377" cy="696.6" r="4.75" fill="#fff" stroke="#231f20" stroke-width="3.1"/>
<circle cx="377" cy="696.6" r="2.2" fill="#231f20"/>
<circle cx="377" cy="730.4" r="4.75" fill="#fff" stroke="#231f20" stroke-width="3.1"/>
<circle cx="377" cy="730.4" r="2.2" fill="#231f20"/>
<path d="M400,770 C406,766.4 413,765.8 416.6,770.4 C420.6,776 417.6,784 415.2,789.5 C414,792.5 413,794 412,796.4" fill="none" stroke="#231f20" stroke-width="7.0" stroke-linecap="butt"/>
<path d="M400,770 C406,766.4 413,765.8 416.6,770.4 C420.6,776 417.6,784 415.2,789.5 C414,792.5 413,794 412,796.4" fill="none" stroke="#fff" stroke-width="2.2" stroke-linecap="butt"/>
<g transform="translate(381.6,794) rotate(-19)">
<rect x="-5.4" y="-10.4" width="9.4" height="20.8" rx="1.5" fill="#fff" stroke="#231f20" stroke-width="2.8"/>
</g>
<path d="M375.8,767.4 L398.4,765.4 L409,809 L391,813.6 Z" fill="#231f20" stroke="#231f20" stroke-width="3.4" stroke-linejoin="round"/>
<path d="M383.6,761.4 L390.6,760.4 L392,766 L384.8,767 Z" fill="#231f20" stroke="#231f20" stroke-width="2.4" stroke-linejoin="round"/>
<path d="M378,768.6 L393.4,812.4" stroke="#fff" stroke-width="1.2" fill="none"/>
<path d="M383.20,772.40 l7.6,-3.0" stroke="#fff" stroke-width="1.0" fill="none" opacity="0.4"/>
<path d="M384.97,776.65 l7.6,-3.0" stroke="#fff" stroke-width="1.0" fill="none" opacity="1"/>
<path d="M386.75,780.90 l7.6,-3.0" stroke="#fff" stroke-width="1.0" fill="none" opacity="1"/>
<path d="M388.52,785.15 l7.6,-3.0" stroke="#fff" stroke-width="1.0" fill="none" opacity="1"/>
<path d="M390.30,789.40 l7.6,-3.0" stroke="#fff" stroke-width="1.0" fill="none" opacity="1"/>
<path d="M392.07,793.65 l7.6,-3.0" stroke="#fff" stroke-width="1.0" fill="none" opacity="1"/>
<path d="M393.85,797.90 l7.6,-3.0" stroke="#fff" stroke-width="1.0" fill="none" opacity="1"/>
<path d="M395.62,802.15 l7.6,-3.0" stroke="#fff" stroke-width="1.0" fill="none" opacity="1"/>
<path d="M397.40,806.40 l7.6,-3.0" stroke="#fff" stroke-width="1.0" fill="none" opacity="0.4"/>
<path d="M359.2,770 V778 Q359.2,797 378,797" fill="none" stroke="#231f20" stroke-width="3.0" stroke-linejoin="round" stroke-linecap="butt" />
<path d="M366.6,770 V775 Q366.6,789 380,790" fill="none" stroke="#231f20" stroke-width="2.4" stroke-linejoin="round" stroke-linecap="butt" />
<rect x="748.2" y="253.1" width="22.6" height="153" fill="#fff"/>
<path d="M748.4,293 V253.4 H770.6 V293" fill="none" stroke="#231f20" stroke-width="3.0" stroke-linejoin="round" stroke-linecap="butt" />
<path d="M748.4,365 V405.6 H770.6 V365" fill="none" stroke="#231f20" stroke-width="3.0" stroke-linejoin="round" stroke-linecap="butt" />
<rect x="749.0" y="279.1" width="20.8" height="8.2" rx="0" fill="#231f20"/>
<circle cx="759.4" cy="275.1" r="9.8" fill="#fff" stroke="#231f20" stroke-width="2.6"/>
<rect x="752.3" y="272.3" width="14.2" height="5.6" rx="1.8" fill="#231f20"/>
<rect x="756.6" y="268.1" width="5.6" height="14.0" rx="1.8" fill="#231f20"/>
<circle cx="759.4" cy="275.1" r="0.6" fill="#fff"/>
<rect x="749.0" y="370.8" width="20.8" height="10.2" rx="0" fill="#231f20"/>
<circle cx="759.4" cy="385" r="9.8" fill="#fff" stroke="#231f20" stroke-width="2.6"/>
<rect x="752.3" y="382.2" width="14.2" height="5.6" rx="1.8" fill="#231f20"/>
<rect x="756.6" y="378.0" width="5.6" height="14.0" rx="1.8" fill="#231f20"/>
<circle cx="759.4" cy="385" r="0.6" fill="#fff"/>
<path d="M748.8,293 L748.8,365" fill="none" stroke="#231f20" stroke-width="2.6" stroke-linecap="butt"/>
<path d="M747.6,294.2 L770,294.2" fill="none" stroke="#231f20" stroke-width="2.6" stroke-linecap="butt"/>
<path d="M747.6,364.2 L770,364.2" fill="none" stroke="#231f20" stroke-width="2.6" stroke-linecap="butt"/>
<path d="M742,294.6 L748,296 M742,363.8 L748,362.4" fill="none" stroke="#231f20" stroke-width="1.6" stroke-linejoin="round" stroke-linecap="butt" />
<rect x="769.2" y="293" width="8.2" height="72.4" rx="0" fill="#231f20"/>
<circle cx="759.4" cy="312.6" r="4.75" fill="#fff" stroke="#231f20" stroke-width="3.1"/>
<circle cx="759.4" cy="312.6" r="2.2" fill="#231f20"/>
<circle cx="759.4" cy="346.4" r="4.75" fill="#fff" stroke="#231f20" stroke-width="3.1"/>
<circle cx="759.4" cy="346.4" r="2.2" fill="#231f20"/>
<path d="M742,326.6 L770,326.6" fill="none" stroke="#231f20" stroke-width="1.4" stroke-linecap="butt"/>
<rect x="748.2" y="637.1" width="22.6" height="153.4" fill="#fff"/>
<path d="M748.4,677 V637.4 H770.6 V677" fill="none" stroke="#231f20" stroke-width="3.0" stroke-linejoin="round" stroke-linecap="butt" />
<path d="M748.4,749 V789.6 H770.6 V749" fill="none" stroke="#231f20" stroke-width="3.0" stroke-linejoin="round" stroke-linecap="butt" />
<rect x="749.0" y="663.1" width="20.8" height="8.2" rx="0" fill="#231f20"/>
<circle cx="759.4" cy="659.1" r="9.8" fill="#fff" stroke="#231f20" stroke-width="2.6"/>
<rect x="752.3" y="656.3000000000001" width="14.2" height="5.6" rx="1.8" fill="#231f20"/>
<rect x="756.6" y="652.1" width="5.6" height="14.0" rx="1.8" fill="#231f20"/>
<circle cx="759.4" cy="659.1" r="0.6" fill="#fff"/>
<rect x="749.0" y="754.8" width="20.8" height="10.2" rx="0" fill="#231f20"/>
<circle cx="759.4" cy="769" r="9.8" fill="#fff" stroke="#231f20" stroke-width="2.6"/>
<rect x="752.3" y="766.2" width="14.2" height="5.6" rx="1.8" fill="#231f20"/>
<rect x="756.6" y="762.0" width="5.6" height="14.0" rx="1.8" fill="#231f20"/>
<circle cx="759.4" cy="769" r="0.6" fill="#fff"/>
<path d="M748.8,677 L748.8,749" fill="none" stroke="#231f20" stroke-width="2.6" stroke-linecap="butt"/>
<path d="M747.6,678.2 L770,678.2" fill="none" stroke="#231f20" stroke-width="2.6" stroke-linecap="butt"/>
<path d="M747.6,748.2 L770,748.2" fill="none" stroke="#231f20" stroke-width="2.6" stroke-linecap="butt"/>
<path d="M742,678.6 L748,680 M742,747.8 L748,746.4" fill="none" stroke="#231f20" stroke-width="1.6" stroke-linejoin="round" stroke-linecap="butt" />
<rect x="769.2" y="677" width="8.2" height="72.4" rx="0" fill="#231f20"/>
<circle cx="759.4" cy="696.6" r="4.75" fill="#fff" stroke="#231f20" stroke-width="3.1"/>
<circle cx="759.4" cy="696.6" r="2.2" fill="#231f20"/>
<circle cx="759.4" cy="730.4" r="4.75" fill="#fff" stroke="#231f20" stroke-width="3.1"/>
<circle cx="759.4" cy="730.4" r="2.2" fill="#231f20"/>
<path d="M742,715.2 L770,715.2" fill="none" stroke="#231f20" stroke-width="1.4" stroke-linecap="butt"/>
</svg>
</body></html>
